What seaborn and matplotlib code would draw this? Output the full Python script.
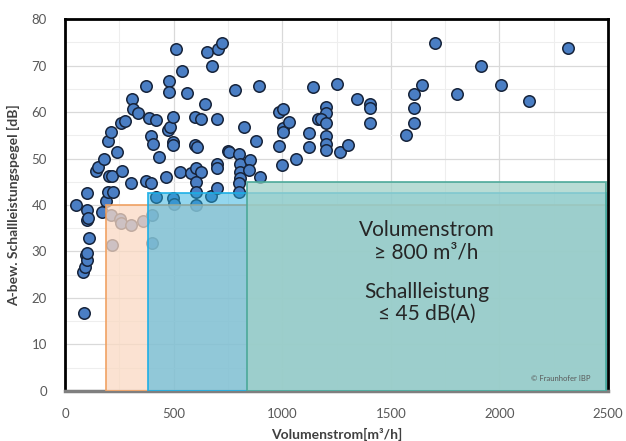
import matplotlib
matplotlib.use("Agg")
import matplotlib.pyplot as plt
import seaborn as sns
import pandas as pd
from matplotlib.patches import Rectangle
from matplotlib.ticker import MultipleLocator

# Messpunkte: Volumenstrom [m3/h] und A-bewerteter Schallleistungspegel [dB]
flow = [49, 100, 100, 103, 141, 152, 180, 169, 188, 200, 223, 203, 215, 200, 211,
        241, 264, 303, 257, 277, 308, 314, 334, 372, 375, 395, 387, 421, 398, 406,
        434, 418, 464, 472, 483, 495, 498, 498, 480, 480, 513, 537, 561, 530, 495,
        503, 598, 626, 598, 610, 646, 700, 652, 675, 703, 723, 580, 603, 626, 603,
        603, 603, 672, 700, 700, 700, 749, 756, 781, 803, 806, 806, 806, 803, 803,
        852, 846, 826, 880, 895, 900,
        88, 84, 90, 97, 103, 100, 111, 107,
        211, 252, 257, 303, 218, 360, 400, 400,
        987, 1002, 1002, 1002, 984, 1000, 1033, 1064, 1125, 1125, 1141, 1164, 1251,
        1202, 1202, 1179, 1202, 1202, 1202, 1202, 1268, 1302, 1344, 1402, 1402, 1402,
        1568, 1605, 1605, 1605, 1644, 1702, 1805, 1913, 2005, 2137, 2314]
level = [40.0, 42.6, 38.9, 36.8, 47.4, 48.1, 49.8, 38.5, 40.9, 42.7, 42.7, 46.2, 46.2, 53.8, 55.8,
         51.5, 47.4, 44.8, 57.7, 58.1, 62.7, 60.7, 59.7, 65.6, 45.2, 44.8, 58.8, 58.3, 54.8, 53.1,
         50.3, 41.8, 46.1, 56.1, 56.7, 59.0, 53.6, 52.9, 66.7, 64.2, 73.5, 68.8, 64.0, 47.2, 41.6,
         40.2, 59.0, 58.6, 52.9, 52.5, 61.7, 58.6, 72.8, 70.0, 73.6, 74.8, 46.8, 47.9, 47.0, 45.0,
         42.7, 40.0, 42.0, 48.9, 48.0, 43.7, 51.7, 51.4, 64.8, 50.9, 48.9, 47.2, 45.7, 44.8, 42.7,
         49.7, 47.6, 56.8, 53.8, 65.5, 46.1,
         16.8, 25.6, 26.7, 29.3, 28.1, 29.6, 32.8, 37.1,
         37.8, 37.0, 36.1, 35.7, 31.4, 36.6, 37.8, 31.9,
         60.1, 60.7, 56.5, 55.8, 52.7, 48.7, 57.8, 49.9, 55.5, 52.5, 65.3, 58.6, 66.0,
         61.0, 59.7, 58.6, 57.6, 54.8, 53.1, 51.8, 51.5, 52.9, 62.7, 61.7, 60.8, 57.7,
         55.1, 63.8, 60.8, 57.7, 65.8, 74.8, 63.8, 69.9, 65.8, 62.4, 73.7]

# Bereiche (x von, x bis, Pegel bis)
zone_x0 = [190, 380, 840]
zone_x1 = [2490, 2490, 2490]
zone_top = [40, 42.5, 45]
zone_face = ["#FAD9C3", "#29AFDF", "#A1D1C8"]
zone_alpha = [0.75, 0.5, 0.75]
zone_edge = ["#F0A060", "#1AAEE6", "#4AA898"]

x_ticks = [0, 500, 1000, 1500, 2000, 2500]
y_ticks = [0, 10, 20, 30, 40, 50, 60, 70, 80]

sns.set_style("white")
plt.rcParams["font.family"] = ["Lato", "DejaVu Sans"]

df = pd.DataFrame({"flow": flow, "level": level})

fig = plt.figure(figsize=(6.26, 4.41), dpi=100)
ax = fig.add_axes([0.1038, 0.1134, 0.8675, 0.8435])

sns.scatterplot(data=df, x="flow", y="level", ax=ax, s=68, color="#4A7EC4",
                edgecolor="#16233a", linewidth=1.1, zorder=2)

for x0, x1, top, fc, a, ec in zip(zone_x0, zone_x1, zone_top, zone_face, zone_alpha, zone_edge):
    ax.add_patch(Rectangle((x0, 0), x1 - x0, top, facecolor=fc, alpha=a,
                           edgecolor="none", zorder=3))
    ax.add_patch(Rectangle((x0, 0), x1 - x0, top, facecolor="none",
                           edgecolor=ec, linewidth=1.3, alpha=0.9, zorder=3))

ax.set_xlim(0, 2500)
ax.set_ylim(0, 80)
ax.set_xticks(x_ticks)
ax.set_yticks(y_ticks)
ax.xaxis.set_minor_locator(MultipleLocator(250))
ax.yaxis.set_minor_locator(MultipleLocator(5))
ax.grid(which="major", color="#D9D9D9", linewidth=0.9, zorder=0)
ax.grid(which="minor", color="#EEEEEE", linewidth=0.8, zorder=0)
ax.set_axisbelow(True)
ax.tick_params(which="both", length=0, labelsize=9.5, labelcolor="#595959")
ax.tick_params(axis="x", pad=12)
ax.tick_params(axis="y", pad=13)

for side in ["left", "top", "right"]:
    ax.spines[side].set_color("black")
    ax.spines[side].set_linewidth(2)
ax.spines["bottom"].set_color("#7F7F7F")
ax.spines["bottom"].set_linewidth(2.5)

ax.set_xlabel("Volumenstrom[m³/h]", fontsize=10, fontweight="bold", color="#404040", labelpad=6)
ax.set_ylabel("A-bew. Schallleistungspegel [dB]", fontsize=10, fontweight="bold",
              color="#404040", labelpad=8)

ax.text(1665, 32.2, "Volumenstrom\n≥ 800 m³/h", ha="center", va="center",
        fontsize=15, color="#262626", linespacing=1.15, zorder=5)
ax.text(1665, 18.9, "Schallleistung\n≤ 45 dB(A)", ha="center", va="center",
        fontsize=15, color="#262626", linespacing=1.15, zorder=5)
ax.text(2420, 2.6, "© Fraunhofer IBP", ha="right", va="center", fontsize=5.5,
        color="#595959", zorder=5)

fig.savefig("out.png", dpi=100)
